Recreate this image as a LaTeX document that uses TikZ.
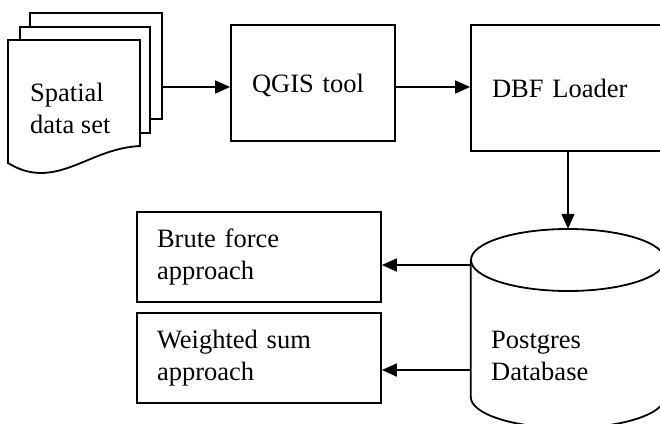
\documentclass[tikz,border=0pt]{standalone}
\usepackage{fontspec}
\setmainfont{Liberation Serif}
\usetikzlibrary{arrows.meta}

\tikzset{
  box/.style={draw, line width=1.8pt, align=left, inner xsep=21pt, inner ysep=0pt},
  txt/.style={align=left, inner sep=0pt},
  arr/.style={line width=1.8pt, -{Triangle[length=15pt,width=13pt]}},
  sheet/.style={draw, fill=white, line width=1.8pt},
}

\begin{document}
\begin{tikzpicture}[x=1pt, y=-1pt, font=\fontsize{26.5}{32}\selectfont]
            \useasboundingbox (0,0) rectangle (660,423);
            % stack of data sheets
            \draw[sheet] (30,13) rectangle (162,119);
            \draw[sheet] (20,27) rectangle (150,133);
            \draw[sheet] (8,40) -- (140,40) -- (140,146)
                .. controls (100,148) and (75,172) .. (42,173)
                .. controls (25,173) and (15,167) .. (8,163) -- cycle;
            \node[txt, anchor=west] (docs) at (30,108) {Spatial\\data set};
            \coordinate (docout) at (162,87);
            % tools
            \node[box, text width=122pt, text depth=0pt, minimum height=116pt] (qgis) at (313,83) {QGIS tool};
            \node[box, text width=152pt, minimum height=126pt] (dbf) at (568,88) {DBF Loader};
            % database drum
            \node[inner sep=0pt, minimum width=194pt, minimum height=199pt] (db) at (568,328.5) {};
            \draw[line width=1.8pt] (db.west |- 0,260) -- (db.west |- 0,397)
                arc[start angle=180, end angle=360, x radius=97pt, y radius=31pt]
                -- (db.east |- 0,260);
            \draw[line width=1.8pt] (568,260) ellipse[x radius=97pt, y radius=31pt];
            \node[txt, anchor=west] (dbtext) at (491,356) {Postgres\\Database};
            % approaches
            \node[box, inner xsep=20pt, text width=204pt, minimum height=90pt] (brute) at (259,257) {Brute force\\approach};
            \node[box, inner xsep=20pt, text width=204pt, minimum height=90pt] (wsum) at (259,358) {Weighted sum\\approach};
            \draw[arr] (docout) -- (docout -| qgis.west);
            \draw[arr] (qgis.east |- docout) -- (docout -| dbf.west);
            \draw[arr] (dbf.south) -- (db.north);
            \draw[arr] (db.west |- 0,265) -- (brute.east |- 0,265);
            \draw[arr] (db.west |- 0,370) -- (wsum.east |- 0,370);
        \end{tikzpicture}
\end{document}
